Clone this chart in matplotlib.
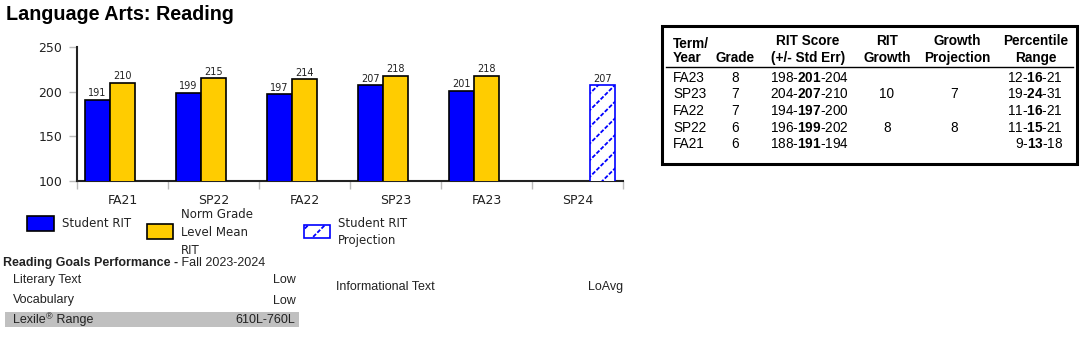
import numpy as np
import matplotlib
matplotlib.use("Agg")
import matplotlib.pyplot as plt
from matplotlib.patches import Rectangle

plt.rcParams['mathtext.fontset'] = 'custom'
plt.rcParams['mathtext.rm'] = 'Liberation Sans'
plt.rcParams['mathtext.bf'] = 'Liberation Sans:bold'
plt.rcParams['hatch.linewidth'] = 1.3

# ---------------- data ----------------
terms = ['FA21', 'SP22', 'FA22', 'SP23', 'FA23', 'SP24']
student_rit = [191, 199, 197, 207, 201, np.nan]
norm_rit = [210, 215, 214, 218, 218, np.nan]
projection_rit = [np.nan, np.nan, np.nan, np.nan, np.nan, 207]
y_ticks = [100, 150, 200, 250]

table_terms = ['FA23', 'SP23', 'FA22', 'SP22', 'FA21']
table_grades = ['8', '7', '7', '6', '6']
rit_low = [198, 204, 194, 196, 188]
rit_mid = [201, 207, 197, 199, 191]
rit_high = [204, 210, 200, 202, 194]
rit_growth = ['', '10', '', '8', '']
growth_projection = ['', '7', '', '8', '']
pct_low = [12, 19, 11, 11, 9]
pct_mid = [16, 24, 16, 15, 13]
pct_high = [21, 31, 21, 21, 18]

goal_names_left = ['Literary Text', 'Vocabulary']
goal_levels_left = ['Low', 'Low']
goal_names_right = ['Informational Text']
goal_levels_right = ['LoAvg']
lexile_range = '610L-760L'

W, H = 1080, 352
fig = plt.figure(figsize=(W / 100, H / 100), dpi=100)

# overlay axes in pixel coordinates
ov = fig.add_axes([0, 0, 1, 1])
ov.set_xlim(0, W)
ov.set_ylim(H, 0)
ov.axis('off')

BLUE = '#0000FF'
GOLD = '#FFCC00'

# ---------------- bar chart ----------------
ax = fig.add_axes([77 / W, 1 - 181 / H, 546 / W, 134 / H])
x = np.arange(len(terms))
bw = 0.275
b1 = ax.bar(x - bw, student_rit, bw, color=BLUE, edgecolor='black', linewidth=1.2, zorder=3)
b2 = ax.bar(x, norm_rit, bw, color=GOLD, edgecolor='black', linewidth=1.2, zorder=3)
b3 = ax.bar(x + bw, projection_rit, bw, color='white', edgecolor=BLUE, hatch='//', linewidth=0, zorder=3)
# white cross-hatch breaks the blue diagonals into short dashes
ax.bar(x + bw, projection_rit, bw, color='none', edgecolor='white', hatch='\\\\\\\\', linewidth=0, zorder=4)
ax.bar(x + bw, projection_rit, bw, color='none', edgecolor=BLUE, linewidth=1.2, zorder=5)
for bars, vals in ((b1, student_rit), (b2, norm_rit), (b3, projection_rit)):
    labels = ['' if np.isnan(v) else f'{int(v)}' for v in vals]
    ax.bar_label(bars, labels=labels, padding=1, fontsize=7, color='#222222', family='DejaVu Sans')

ax.set_ylim(100, 250)
ax.set_xlim(-0.5, len(terms) - 0.5)
ax.set_yticks(y_ticks)
ax.set_yticklabels([str(t) for t in y_ticks], fontsize=9, color='#222222')
ax.set_xticks(x)
ax.set_xticklabels(terms, fontsize=9, color='#222222')
ax.set_xticks(np.arange(len(terms) + 1) - 0.5, minor=True)
ax.tick_params(axis='x', which='major', length=0, pad=9)
ax.tick_params(axis='x', which='minor', length=6, color='#bbbbbb', width=1)
ax.tick_params(axis='y', length=5.5, color='#bbbbbb', width=1, pad=5)
for s in ('top', 'right'):
    ax.spines[s].set_visible(False)
for s in ('left', 'bottom'):
    ax.spines[s].set_color('#222222')
    ax.spines[s].set_linewidth(1.5)

# title
ov.text(6, 14, 'Language Arts: Reading', fontsize=14.2, fontweight='bold',
        family='Liberation Sans', va='center', ha='left', color='black')

# legend (manual)
leg_font = dict(fontsize=8.5, family='DejaVu Sans', color='#222222', va='center', ha='left')
ov.add_patch(Rectangle((27, 216), 27, 15, facecolor=BLUE, edgecolor='black', lw=1.2))
ov.text(62, 223.5, 'Student RIT', **leg_font)
ov.add_patch(Rectangle((147, 224), 26, 15, facecolor=GOLD, edgecolor='black', lw=1.2))
ov.text(181, 232.5, 'Norm Grade\nLevel Mean\nRIT', linespacing=1.45, **leg_font)
ov.add_patch(Rectangle((304, 225), 26, 13, facecolor='white', edgecolor=BLUE, hatch='//', lw=0))
ov.add_patch(Rectangle((304, 225), 26, 13, facecolor='none', edgecolor='white', hatch='\\\\\\\\', lw=0))
ov.add_patch(Rectangle((304, 225), 26, 13, facecolor='none', edgecolor=BLUE, lw=1.2))
ov.text(338, 232, 'Student RIT\nProjection', linespacing=1.45, **leg_font)

# ---------------- goals section ----------------
gfam = ['Liberation Sans Narrow', 'Liberation Sans']
gcol = '#222222'
t1 = ov.text(3, 263, 'Reading Goals Performance -', fontsize=9, fontweight='bold',
             family=gfam, va='center', ha='left', color=gcol)
ov.annotate(' Fall 2023-2024', xy=(1, 0.5), xycoords=t1, va='center', ha='left',
            fontsize=9, family=gfam, color=gcol)
ov.add_patch(Rectangle((5, 312), 294, 15, facecolor='#c0c0c0', edgecolor='none'))
rows_y = [280, 300.5]
for name, lvl, yy in zip(goal_names_left, goal_levels_left, rows_y):
    ov.text(13, yy, name, fontsize=9, family=gfam, va='center', ha='left', color=gcol)
    ov.text(296, yy, lvl, fontsize=9, family=gfam, va='center', ha='right', color=gcol)
tl = ov.text(13, 320, 'Lexile', fontsize=9, family=gfam, va='center', ha='left', color=gcol)
tr = ov.annotate('®', xy=(1, 0.75), xycoords=tl, va='center', ha='left',
                 fontsize=6.5, family=gfam, color=gcol)
ov.annotate(' Range', xy=(1, 0.5), xycoords=tl, xytext=(5, 0), textcoords='offset points',
            va='center', ha='left', fontsize=9, family=gfam, color=gcol)
ov.text(295, 320, lexile_range, fontsize=9, family=gfam, va='center', ha='right', color=gcol)
for name, lvl in zip(goal_names_right, goal_levels_right):
    ov.text(336, 287, name, fontsize=9, family=gfam, va='center', ha='left', color=gcol)
    ov.text(623, 287, lvl, fontsize=9, family=gfam, va='center', ha='right', color=gcol)

# ---------------- table ----------------
ov.add_patch(Rectangle((661.5, 26), 415, 138, facecolor='none', edgecolor='black', lw=2.2))
ov.plot([666, 1073], [66.5, 66.5], color='black', lw=1.0)
tf = dict(fontsize=9.8, family='Liberation Sans', color='black', va='center')
hb = dict(tf, fontweight='bold')
ov.text(673, 44, 'Term/', ha='left', **hb)
ov.text(673, 58, 'Year', ha='left', **hb)
ov.text(735, 58, 'Grade', ha='center', **hb)
headers = [(808, 'RIT Score', '(+/- Std Err)'), (887, 'RIT', 'Growth'),
           (957, 'Growth', 'Projection'), (1036, 'Percentile', 'Range')]
for cx, l1, l2 in headers:
    ov.text(cx, 41, l1, ha='center', **hb)
    ov.text(cx, 58, l2, ha='center', **hb)

row_y = [78, 94.5, 111, 127.5, 144]
for i, yy in enumerate(row_y):
    ov.text(673, yy, table_terms[i], ha='left', **tf)
    ov.text(735, yy, table_grades[i], ha='center', **tf)
    ov.text(809, yy, f'{rit_low[i]}-$\\mathbf{{{rit_mid[i]}}}$-{rit_high[i]}', ha='center', **tf)
    ov.text(887, yy, rit_growth[i], ha='center', **tf)
    ov.text(954, yy, growth_projection[i], ha='center', **tf)
    ov.text(1063, yy, f'{pct_low[i]}-$\\mathbf{{{pct_mid[i]}}}$-{pct_high[i]}', ha='right', **tf)

fig.savefig('out.png', dpi=100)
